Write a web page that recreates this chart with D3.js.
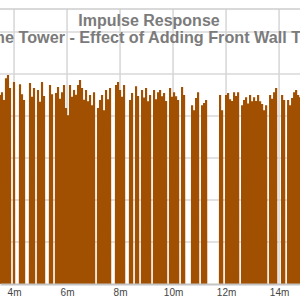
<!DOCTYPE html>
<html>
<head>
  <script src="https://d3js.org/d3.v7.min.js"></script>
  <style>
    html, body { margin: 0; padding: 0; background: #fff; overflow: hidden; }
    svg { display: block; }
  </style>
</head>
<body>
  <svg width="300" height="300"></svg>
  <script>
    // visible window of the impulse plot (ms)
    var timeRange = [3.47, 14.79];
    var levelRange = [0, 65.5];
    var gridLevels = [10, 20, 30, 40, 50, 60];
    var tickTimes = [4, 6, 8, 10, 12, 14];
    var titleLines = ["Impulse Response", "Home Tower - Effect of Adding Front Wall Treatment"];

    // impulse samples: start time, spacing, peak level per sample (null = stays low)
    var sampleStart = 3.47;
    var sampleStep = 0.0755;
    var troughLevel = -300;
    var peakLevels = [
      45.0, 45.7, 43.8, 49.0, 49.8, 46.7, null, 48.1, null, null,
      47.6, 45.2, 43.8, null, null, 47.9, 44.6, 46.7, null, 46.2,
      43.4, 48.1, 44.8, null, null, 47.4, 45.2, null, 45.5, 46.9,
      44.1, 45.7, 47.4, 41.9, 40.2, 47.4, 44.6, 46.2, 45.1, 47.4,
      48.6, 46.7, 43.9, 46.2, 43.5, 45.0, 42.6, 45.7, null, 41.9,
      43.8, 45.0, 41.4, 46.2, 44.0, 46.7, null, null, 47.4, 48.1,
      46.2, 44.6, 47.4, null, null, 43.8, 45.5, null, 47.1, 44.8,
      null, 46.2, 44.4, 46.7, 43.5, 45.0, null, 46.2, 44.0, 45.7,
      46.2, 44.7, 45.5, 43.6, null, 46.7, 44.6, 45.7, 44.7, 43.8,
      null, 46.9, 45.0, null, null, null, 42.6, 41.4, 44.3, 45.7,
      null, 42.6, 43.1, 43.8, null, null, null, null, null, null,
      45.0, 41.4, null, 45.0, 45.5, 44.0, 43.6, 45.7, 44.8, 45.7,
      null, 42.6, 43.8, 44.5, 43.0, 45.0, 43.5, 44.5, 43.6, 45.0,
      43.5, 42.9, 41.4, 42.6, null, 45.0, 44.1, 45.7, 46.7, null,
      null, 45.0, 43.8, null, 43.8, 42.6, 44.3, 45.7, 46.2, 45.0,
      44.5
    ];

    var svg = d3.select("svg");
    var x = d3.scaleLinear().domain(timeRange).range([0, 300]);
    var y = d3.scaleLinear().domain(levelRange).range([284, 9]);

    svg.append("clipPath").attr("id", "plot")
      .append("rect").attr("x", 0).attr("y", 9).attr("width", 300).attr("height", 275);

    // grid
    svg.append("g")
      .attr("stroke", "#d9d9d9").attr("stroke-width", 1.5)
      .selectAll("line").data(gridLevels).join("line")
      .attr("x1", 0).attr("x2", 300)
      .attr("y1", d => y(d)).attr("y2", d => y(d));
    svg.append("g")
      .attr("stroke", "#d6d6d6").attr("stroke-width", 1.5)
      .selectAll("line").data(tickTimes).join("line")
      .attr("x1", d => x(d)).attr("x2", d => x(d))
      .attr("y1", y(levelRange[1])).attr("y2", y(levelRange[0]));
    svg.append("line")
      .attr("x1", 0).attr("x2", 300)
      .attr("y1", y(levelRange[1])).attr("y2", y(levelRange[1]))
      .attr("stroke", "#cccccc").attr("stroke-width", 1.5);

    // zig-zag through peaks and troughs
    var points = [[sampleStart - sampleStep / 2, troughLevel]];
    peakLevels.forEach(function (p, i) {
      var t = sampleStart + i * sampleStep;
      points.push([t, p === null ? troughLevel : p]);
      points.push([t + sampleStep / 2, troughLevel]);
    });
    var line = d3.line().x(d => x(d[0])).y(d => y(d[1]));
    svg.append("path")
      .attr("clip-path", "url(#plot)")
      .attr("d", line(points))
      .attr("fill", "none")
      .attr("stroke", "#a05000")
      .attr("stroke-width", 2.15);

    // bottom axis
    var axis = svg.append("g")
      .attr("transform", "translate(0," + y(levelRange[0]) + ")")
      .call(d3.axisBottom(x).tickValues(tickTimes).tickFormat(d => d + "m").tickSize(0).tickPadding(5));
    axis.select(".domain").attr("stroke", "#c4c4c4").attr("stroke-width", 2);
    axis.selectAll("text")
      .attr("font-family", "'Liberation Sans', Arial, sans-serif")
      .attr("font-size", 10).attr("fill", "#444");

    // title
    svg.append("g")
      .attr("font-family", "'Liberation Sans', Arial, sans-serif")
      .attr("font-weight", "bold").attr("fill", "#7b7b7b")
      .selectAll("text").data(titleLines).join("text")
      .attr("font-size", (d, i) => i === 0 ? 16 : 16.2)
      .attr("x", (d, i) => i === 0 ? 149 : -31)
      .attr("y", (d, i) => i === 0 ? 26 : 43)
      .attr("text-anchor", (d, i) => i === 0 ? "middle" : "start")
      .text(d => d);
  </script>
</body>
</html>
